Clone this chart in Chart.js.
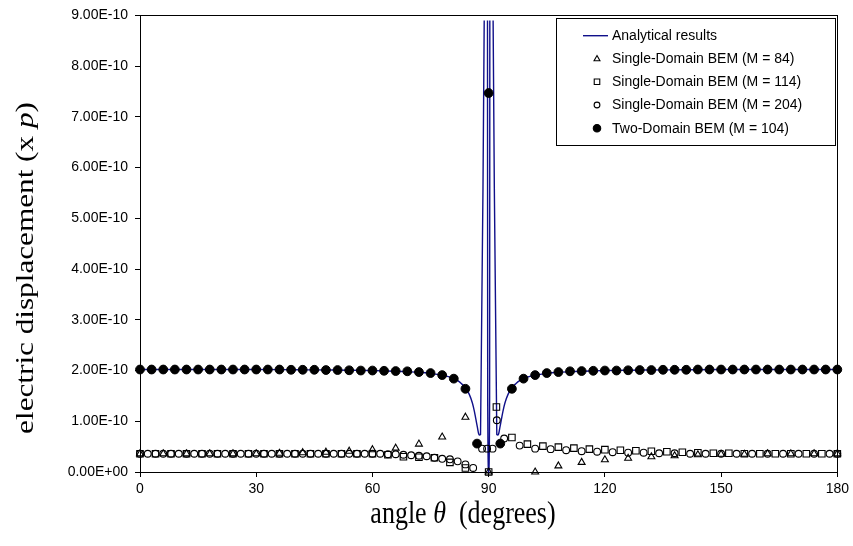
<!DOCTYPE html>
<html><head><meta charset="utf-8">
<script src="https://cdn.jsdelivr.net/npm/chart.js@4/dist/chart.umd.min.js"></script>
<style>html,body{margin:0;padding:0;background:#fff;}#wrap{width:853px;height:546px;}</style>
</head><body><div id="wrap"><canvas id="c" width="853" height="546"></canvas></div>
<script>
// ---- data (y values in units of 1E-10) ----
const xTicks = [0, 30, 60, 90, 120, 150, 180];
const yTickValues = [0,1,2,3,4,5,6,7,8,9];
const yTickLabels = ['0.00E+00','1.00E-10','2.00E-10','3.00E-10','4.00E-10','5.00E-10','6.00E-10','7.00E-10','8.00E-10','9.00E-10'];
const seriesLabels = ['Analytical results','Single-Domain BEM (M = 84)','Single-Domain BEM (M = 114)','Single-Domain BEM (M = 204)','Two-Domain BEM (M = 104)'];

const anaX = [0,10,20,30,40,50,55,60,64,68,72,75,78,80,82,83,84,85,85.8,86.3,86.7,87.1,87.4,87.6,87.9,88.85,89.25,89.7,89.75,90,90.25,90.3,90.75,91.15,92.1,92.4,92.6,92.9,93.3,93.7,94.2,95,96,97,98,100,102,105,108,112,116,120,125,130,140,150,160,170,180];
const anaY = [2.02,2.02,2.02,2.02,2.015,2.01,2.005,2.0,1.99,1.98,1.965,1.945,1.91,1.87,1.80,1.74,1.66,1.53,1.36,1.20,1.04,0.88,0.76,0.73,0.74,8.9,null,8.9,1.5,0,1.5,8.9,null,8.9,0.74,0.73,0.76,0.88,1.04,1.20,1.36,1.53,1.66,1.74,1.80,1.87,1.91,1.945,1.965,1.98,1.99,2.0,2.005,2.01,2.015,2.02,2.02,2.02,2.02];

const triX = [0,6,12,18,24,30,36,42,48,54,60,66,72,78,84,90,102,108,114,120,126,132,138,144,150,156,162,168,174,180];
const triY = [0.36,0.36,0.36,0.36,0.36,0.36,0.37,0.38,0.39,0.41,0.44,0.47,0.55,0.69,1.08,0.0,0.0,0.12,0.19,0.24,0.27,0.30,0.32,0.34,0.35,0.35,0.36,0.36,0.36,0.36];

const sqX = [0,4,8,12,16,20,24,28,32,36,40,44,48,52,56,60,64,68,72,76,80,84,90,92,96,100,104,108,112,116,120,124,128,132,136,140,144,148,152,156,160,164,168,172,176,180];
const sqY = [0.36,0.36,0.36,0.36,0.36,0.36,0.36,0.36,0.36,0.36,0.36,0.36,0.36,0.36,0.36,0.36,0.34,0.30,0.29,0.28,0.19,0.08,0.0,1.28,0.68,0.55,0.51,0.49,0.47,0.45,0.44,0.43,0.42,0.41,0.40,0.39,0.38,0.37,0.37,0.36,0.36,0.36,0.36,0.36,0.36,0.36];

const cirX = [0,2,4,6,8,10,12,14,16,18,20,22,24,26,28,30,32,34,36,38,40,42,44,46,48,50,52,54,56,58,60,62,64,66,68,70,72,74,76,78,80,82,84,86,88.3,89.6,91.0,92.1,94,98,102,106,110,114,118,122,126,130,134,138,142,146,150,154,158,162,166,170,174,178,180];
const cirY = [0.36,0.36,0.36,0.36,0.36,0.36,0.36,0.36,0.36,0.36,0.36,0.36,0.36,0.36,0.36,0.36,0.36,0.36,0.36,0.36,0.36,0.36,0.36,0.36,0.36,0.36,0.36,0.36,0.36,0.36,0.36,0.36,0.35,0.35,0.34,0.33,0.32,0.31,0.28,0.26,0.25,0.21,0.15,0.08,0.46,0.46,0.46,1.02,0.66,0.52,0.46,0.45,0.43,0.41,0.40,0.39,0.38,0.38,0.37,0.37,0.36,0.36,0.36,0.36,0.36,0.36,0.36,0.36,0.36,0.36,0.36];

const twoX = [0,3,6,9,12,15,18,21,24,27,30,33,36,39,42,45,48,51,54,57,60,63,66,69,72,75,78,81,84,87,90,93,96,99,102,105,108,111,114,117,120,123,126,129,132,135,138,141,144,147,150,153,156,159,162,165,168,171,174,177,180];
const twoY = [2.02,2.02,2.02,2.02,2.02,2.02,2.02,2.02,2.02,2.02,2.02,2.02,2.02,2.015,2.015,2.015,2.01,2.01,2.005,2.0,2.0,1.995,1.99,1.985,1.97,1.95,1.91,1.84,1.64,0.56,7.47,0.56,1.64,1.84,1.91,1.95,1.97,1.985,1.99,1.995,2.0,2.0,2.005,2.01,2.01,2.015,2.015,2.015,2.02,2.02,2.02,2.02,2.02,2.02,2.02,2.02,2.02,2.02,2.02,2.02,2.02];

const pts = (xs, ys) => xs.map((x, i) => ({x: x, y: ys[i]}));
const LINE = '#10108a';
const NONE = 'rgba(0,0,0,0)';

const datasets = [
  {label: seriesLabels[4], data: pts(twoX, twoY), showLine: false, pointStyle: 'circle', pointRadius: 4.4, backgroundColor: '#000', borderColor: '#000', borderWidth: 1, order: 0, clip: false},
  {label: seriesLabels[3], data: pts(cirX, cirY), showLine: false, pointStyle: 'circle', pointRadius: 3.4, backgroundColor: NONE, borderColor: '#000', borderWidth: 1.1, order: 1, clip: false},
  {label: seriesLabels[2], data: pts(sqX, sqY), showLine: false, pointStyle: 'rect', pointRadius: 4.6, backgroundColor: NONE, borderColor: '#000', borderWidth: 1.1, order: 2, clip: false},
  {label: seriesLabels[1], data: pts(triX, triY), showLine: false, pointStyle: 'triangle', pointRadius: 4.0, backgroundColor: NONE, borderColor: '#000', borderWidth: 1.1, order: 3, clip: false},
  {label: seriesLabels[0], data: pts(anaX, anaY), showLine: true, spanGaps: false, pointRadius: 0, borderColor: LINE, borderWidth: 1.4, cubicInterpolationMode: 'monotone', order: 4, clip: false}
];

const framePlugin = {
  id: 'frame',
  beforeDatasetsDraw(chart) {
    const a = chart.chartArea, ctx = chart.ctx;
    ctx.save();
    ctx.strokeStyle = '#000'; ctx.lineWidth = 1;
    ctx.strokeRect(Math.round(a.left) + 0.5, Math.round(a.top) + 0.5, Math.round(a.right - a.left), Math.round(a.bottom - a.top));
    ctx.restore();
  }
};

function drawSegments(ctx, segs, size, cx, cy) {
  const fam = "'Liberation Serif', 'Times New Roman', serif";
  let total = 0;
  segs.forEach(s => { ctx.font = (s[1] ? 'italic ' : '') + size + 'px ' + fam; total += ctx.measureText(s[0]).width; });
  let x = cx - total / 2;
  segs.forEach(s => { ctx.font = (s[1] ? 'italic ' : '') + size + 'px ' + fam; ctx.fillText(s[0], x, cy); x += ctx.measureText(s[0]).width; });
}

const titlePlugin = {
  id: 'titles',
  afterDraw(chart) {
    const ctx = chart.ctx;
    ctx.save();
    ctx.fillStyle = '#000';
    ctx.textBaseline = 'alphabetic';
    ctx.textAlign = 'left';
    ctx.save();
    ctx.translate(463, 523);
    ctx.scale(1, 1.25);
    drawSegments(ctx, [['angle ', false], ['\u03B8', true], ['  (degrees)', false]], 26, 0, 0);
    ctx.restore();
    ctx.translate(33, 268);
    ctx.rotate(-Math.PI / 2);
    ctx.scale(1.2, 1);
    drawSegments(ctx, [['electric displacement (x ', false], ['p', true], [')', false]], 26, 0, 0);
    ctx.restore();
  }
};

const legendPlugin = {
  id: 'customLegend',
  afterDraw(chart) {
    const ctx = chart.ctx;
    const bx = 556, by = 18, bw = 279, bh = 127;
    ctx.save();
    ctx.fillStyle = '#fff';
    ctx.fillRect(bx, by, bw, bh);
    ctx.strokeStyle = '#000'; ctx.lineWidth = 1;
    ctx.strokeRect(bx + 0.5, by + 0.5, bw, bh);
    const rows = [35.7, 59, 81.7, 105, 128.3];
    const order = [4, 3, 2, 1, 0];
    ctx.font = "14px 'Liberation Sans', Arial, sans-serif";
    ctx.textBaseline = 'middle';
    order.forEach((di, r) => {
      const ds = datasets[di];
      const y = rows[r];
      if (ds.showLine) {
        ctx.strokeStyle = ds.borderColor; ctx.lineWidth = 1.4;
        ctx.beginPath(); ctx.moveTo(583, y); ctx.lineTo(608, y); ctx.stroke();
      } else {
        ctx.fillStyle = ds.backgroundColor; ctx.strokeStyle = ds.borderColor; ctx.lineWidth = 1.1;
        Chart.helpers.drawPoint(ctx, {pointStyle: ds.pointStyle, radius: ds.pointRadius * 0.85, rotation: 0, borderWidth: 1.1}, 597, y);
      }
      ctx.fillStyle = '#000';
      ctx.fillText(ds.label, 612, y + 0.5);
    });
    ctx.restore();
  }
};

new Chart(document.getElementById('c'), {
  type: 'scatter',
  data: {datasets: datasets},
  options: {
    responsive: false, devicePixelRatio: 1, animation: false,
    layout: {padding: {top: 15, right: 14, left: 0, bottom: 0}},
    plugins: {legend: {display: false}, tooltip: {enabled: false}},
    scales: {
      x: {
        type: 'linear', min: 0, max: 180,
        afterBuildTicks: s => { s.ticks = xTicks.map(v => ({value: v})); },
        afterFit: s => { s.height = 74; },
        ticks: {color: '#000', font: {family: "'Liberation Sans', Arial, sans-serif", size: 14}, padding: 4, maxRotation: 0, callback: v => String(v)},
        grid: {drawOnChartArea: false, drawTicks: true, tickLength: 5, color: '#000'},
        border: {color: '#000', width: 1}
      },
      y: {
        type: 'linear', min: 0, max: 9,
        afterBuildTicks: s => { s.ticks = yTickValues.map(v => ({value: v})); },
        afterFit: s => { s.width = 140; },
        ticks: {color: '#000', font: {family: "'Liberation Sans', Arial, sans-serif", size: 14}, padding: 7, callback: (v, i) => yTickLabels[i]},
        grid: {drawOnChartArea: false, drawTicks: true, tickLength: 5, color: '#000'},
        border: {color: '#000', width: 1}
      }
    }
  },
  plugins: [framePlugin, titlePlugin, legendPlugin]
});
</script></body></html>
